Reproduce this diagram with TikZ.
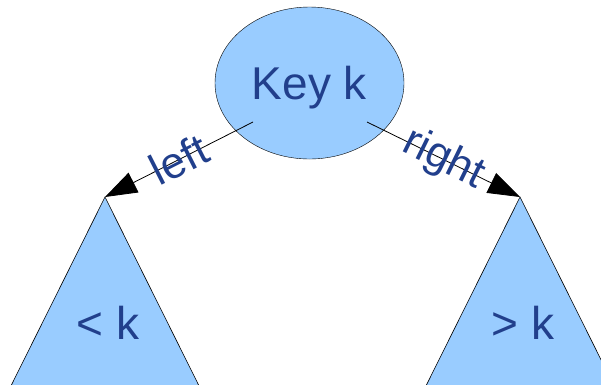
\documentclass[tikz,border=0pt]{standalone}
\usepackage{fontspec}
\setmainfont{Liberation Sans}
\usetikzlibrary{shapes.geometric,arrows.meta}
\definecolor{keyfill}{RGB}{153,204,255}
\definecolor{keytext}{RGB}{33,63,140}
\tikzstyle{key}=[ellipse, draw=black, fill=keyfill, text=keytext, minimum width=189pt, minimum height=152pt, inner sep=0pt, text depth=0pt, font=\fontsize{46}{50}\selectfont]
\tikzstyle{subtree}=[draw=black, fill=keyfill, line width=0.6pt]
\tikzstyle{bound}=[text=keytext, inner sep=0pt, font=\fontsize{46}{50}\selectfont]
\tikzstyle{lbl}=[text=keytext, inner sep=0pt, font=\fontsize{44}{48}\selectfont]
\tikzstyle{edge}=[-{Triangle[length=32pt,width=22pt]}, line width=0.8pt]

\begin{document}
\begin{tikzpicture}[x=1pt,y=-1pt]
	\useasboundingbox (0,0) rectangle (601,384);
	\clip (0,0) rectangle (601,384);

	%The key
	\draw (309.5,83) node[key] (key) {Key k};

	%The subtrees
	\coordinate (lapex) at (105,197);
	\coordinate (rapex) at (520,197);
	\draw[subtree] (lapex) -- ++(-112,225) -- ++(224,0) -- cycle;
	\draw[subtree] (rapex) -- ++(-112,225) -- ++(224,0) -- cycle;
	\draw (108,323) node[bound] (less) {< k};
	\draw (523,323) node[bound] (more) {> k};

	%The edges
	\coordinate (lfrom) at (253,122);
	\coordinate (rfrom) at (367,122);
	\draw[edge] (lfrom) -- node[lbl, sloped] (lleft) {left} (lapex);
	\draw[edge] (rfrom) -- node[lbl, sloped] (lright) {right} (rapex);
\end{tikzpicture}
\end{document}
